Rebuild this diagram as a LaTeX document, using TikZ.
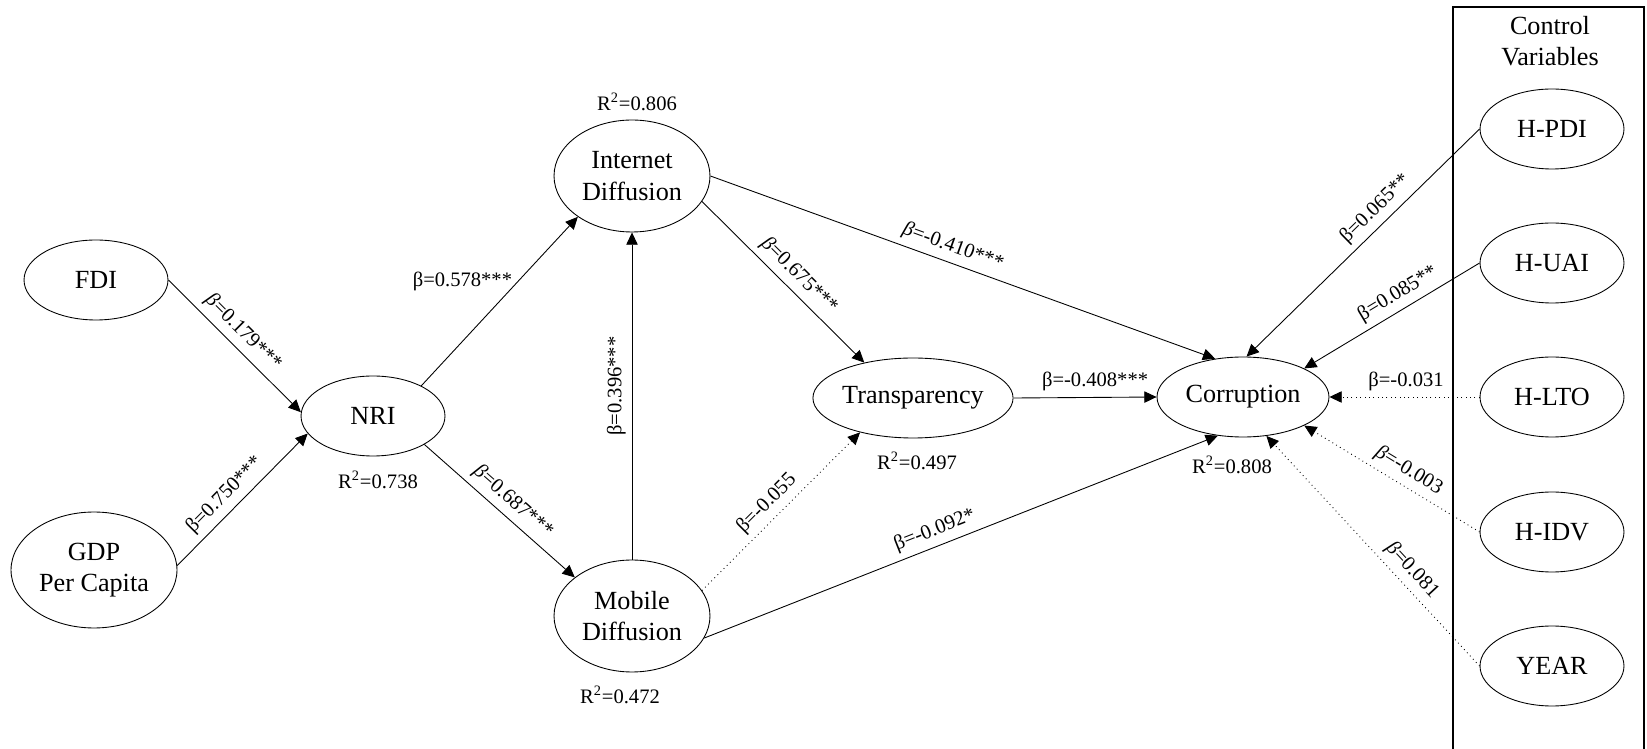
\documentclass[tikz,border=0pt]{standalone}
\usepackage{fontspec}
\setmainfont{Liberation Serif}
\usetikzlibrary{arrows.meta, positioning, shapes.geometric}
\begin{document}
\begin{tikzpicture}[x=0.02cm,y=-0.02cm,
    var/.style={ellipse,draw,line width=0.5pt,inner sep=0pt,minimum width=2.88cm,minimum height=1.6cm,align=center,font=\fontsize{14.9}{18}\selectfont},
    coef/.style={font=\fontsize{11.7}{14}\selectfont},
    sig/.style={-{Triangle[length=7pt,width=6.5pt]},line width=0.5pt},
    nonsig/.style={sig,dotted}]
      \useasboundingbox (0,0) rectangle (1647,749);
      \draw[line width=1pt] (1453,7) rectangle (1644,780);
      \node at (1550,41) [align=center,font=\fontsize{14.9}{18}\selectfont] (ctrl) {Control\\Variables};
      \node at (96,280) [var] (fdi) {FDI};
      \node at (94,570) [var,minimum width=3.32cm,minimum height=2.32cm] (gdp) {GDP\\Per Capita};
      \node at (373,416) [var] (nri) {NRI};
      \node at (632,176) [var,minimum width=3.12cm,minimum height=2.24cm] (inet) {Internet\\Diffusion};
      \node at (632,616) [var,minimum width=3.12cm,minimum height=2.24cm] (mob) {Mobile\\Diffusion};
      \node at (913,398) [var,minimum width=4cm] (transp) {Transparency};
      \node at (1243,397) [var,minimum width=3.44cm] (corr) {Corruption};
      \node at (1552,129) [var] (hpdi) {H-PDI};
      \node at (1552,263) [var] (huai) {H-UAI};
      \node at (1552,397) [var] (hlto) {H-LTO};
      \node at (1552,532) [var] (hidv) {H-IDV};
      \node at (1552,666) [var] (year) {YEAR};
      \node at (637,102) [coef] (r2inet) {R\textsuperscript{2}=0.806};
      \node at (378,480) [coef] (r2nri) {R\textsuperscript{2}=0.738};
      \node at (917,461) [coef] (r2transp) {R\textsuperscript{2}=0.497};
      \node at (620,695) [coef] (r2mob) {R\textsuperscript{2}=0.472};
      \node at (1232,465) [coef] (r2corr) {R\textsuperscript{2}=0.808};
      \draw[sig] (fdi.east) -- node[coef,pos=0.48,sloped,above] {\textit{β}=0.179***} (nri.177);
      \draw[sig] (gdp.3) -- node[coef,pos=0.45,sloped,above] {β=0.750***} (nri.195);
      \draw[sig] (nri.32) -- node[coef,pos=0.62,left] {β=0.578***} (inet.217);
      \draw[sig] (nri.-29) -- node[coef,pos=0.52,sloped,above] {\textit{β}=0.687***} (mob.146);
      \draw[sig] (mob.north) -- node[coef,pos=0.53,anchor=south,rotate=90] {β=0.396***} (inet.south);
      \draw[sig] (inet.-20) -- node[coef,pos=0.53,sloped,above] {\textit{β}=0.675***} (transp.144);
      \draw[sig] (inet.east) -- node[coef,pos=0.47,sloped,above] {\textit{β}=-0.410***} (corr.126);
      \draw[sig] (transp.east) -- node[coef,pos=0.57,above] {β=-0.408***} (corr.west);
      \draw[nonsig] (mob.20) -- node[coef,pos=0.48,sloped,above] {β=-0.055} (transp.213);
      \draw[sig] (mob.-17) -- node[coef,pos=0.46,sloped,above] {β=-0.092*} (corr.237);
      \draw[sig] (hpdi.west) -- node[coef,pos=0.40,sloped,above] {β=0.065**} (corr.85);
      \draw[sig] (huai.west) -- node[coef,pos=0.42,sloped,above] {β=0.085**} (corr.25);
      \draw[nonsig] (hlto.west) -- node[coef,pos=0.49,above] {β=-0.031} (corr.east);
      \draw[nonsig] (hidv.west) -- node[coef,pos=0.45,sloped,above] {\textit{β}=-0.003} (corr.-25);
      \draw[nonsig] (year.west) -- node[coef,pos=0.37,sloped,above] {\textit{β}=0.081} (corr.-59);
  \end{tikzpicture}
\end{document}
